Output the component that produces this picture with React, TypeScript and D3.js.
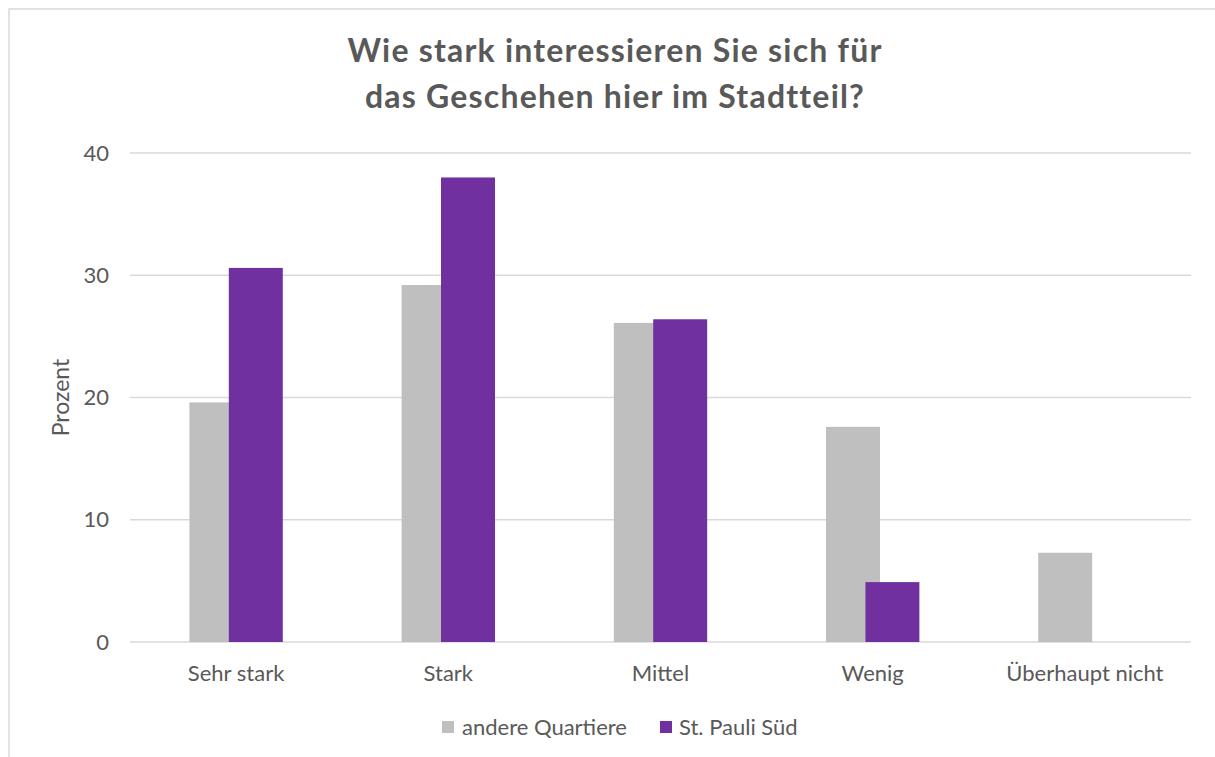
import React from "react"
import * as d3 from "d3"

const categories = ["Sehr stark", "Stark", "Mittel", "Wenig", "Überhaupt nicht"]
const seriesNames = ["andere Quartiere", "St. Pauli Süd"]
const andereQuartiere = [19.6, 29.2, 26.1, 17.6, 7.3]
const stPauliSued = [30.6, 38.0, 26.4, 4.9, 0]
const yTicks = [0, 10, 20, 30, 40]
const titleLines = ["Wie stark interessieren Sie sich für", "das Geschehen hier im Stadtteil?"]
const yAxisLabel = "Prozent"

const colors = ["#bfbfbf", "#7030a0"]
const textColor = "#595959"
const gridColor = "#d9d9d9"
const font = "Lato, 'Open Sans', sans-serif"

const width = 1215
const height = 757
const plot = { left: 130, right: 1191, top: 153, bottom: 642 }
const overlap = 0.27

const App: React.FC = () => {
  const series = [andereQuartiere, stPauliSued]

  const x = d3
    .scaleBand<string>()
    .domain(categories)
    .range([plot.left, plot.right])
    .paddingInner(0.56)
    .paddingOuter(0.28)

  const y = d3.scaleLinear().domain([0, 40]).range([plot.bottom, plot.top])

  const barWidth = x.bandwidth() / (2 - overlap)
  const barStep = barWidth * (1 - overlap)

  return (
    <div style={{ position: "absolute", left: 0, top: 0 }}>
      <svg width={width} height={height} style={{ display: "block", background: "#fff" }}>
        {/* chart border (cut at right and bottom) */}
        <rect x={9} y={9} width={width + 20} height={height + 20} fill="#fff" stroke={gridColor} strokeWidth={1.5} />

        {/* title */}
        <text
          textAnchor="middle"
          fontFamily={font}
          fontWeight="bold"
          fontSize={32}
          letterSpacing={1.2}
          fill={textColor}
        >
          {titleLines.map((line, i) => (
            <tspan key={i} x={615} y={62 + i * 46}>
              {line}
            </tspan>
          ))}
        </text>

        {/* gridlines and y ticks */}
        {yTicks.map((t) => (
          <g key={t}>
            <line x1={plot.left} x2={plot.right} y1={y(t)} y2={y(t)} stroke={gridColor} strokeWidth={1.5} />
            <text
              x={plot.left - 21}
              y={y(t)}
              dy="0.35em"
              textAnchor="end"
              fontFamily={font}
              fontSize={22}
              fill={textColor}
            >
              {t}
            </text>
          </g>
        ))}

        {/* bars */}
        {series.map((values, s) =>
          values.map((v, i) =>
            v > 0 ? (
              <rect
                key={`${s}-${i}`}
                x={(x(categories[i]) || 0) + s * barStep}
                y={y(v)}
                width={barWidth}
                height={y(0) - y(v)}
                fill={colors[s]}
              />
            ) : null
          )
        )}

        {/* x labels */}
        {categories.map((c) => (
          <text
            key={c}
            x={(x(c) || 0) + x.bandwidth() / 2}
            y={681}
            textAnchor="middle"
            fontFamily={font}
            fontSize={22}
            fill={textColor}
          >
            {c}
          </text>
        ))}

        {/* y axis title */}
        <text
          transform={`translate(69,${(plot.top + plot.bottom) / 2}) rotate(-90)`}
          textAnchor="middle"
          fontFamily={font}
          fontSize={23}
          fill={textColor}
        >
          {yAxisLabel}
        </text>

        {/* legend */}
        <g>
          <rect x={442} y={721} width={12} height={12} fill={colors[0]} />
          <text x={462} y={735} fontFamily={font} fontSize={22} fill={textColor}>
            {seriesNames[0]}
          </text>
          <rect x={660} y={721} width={12} height={12} fill={colors[1]} />
          <text x={679} y={735} fontFamily={font} fontSize={22} fill={textColor}>
            {seriesNames[1]}
          </text>
        </g>
      </svg>
    </div>
  )
}

export default App
